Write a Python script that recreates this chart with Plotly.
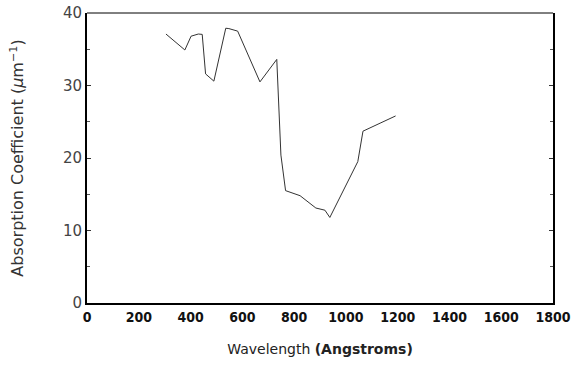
import plotly.graph_objects as go

# Absorption spectrum readings
wavelength = [305, 378, 402, 430, 445, 458, 490, 536, 548, 582, 668, 733, 749,
              767, 823, 884, 919, 938, 1046, 1066, 1132, 1192]
absorption = [37.1, 34.9, 36.8, 37.1, 37.05, 31.6, 30.6, 37.9, 37.85, 37.5, 30.5,
              33.6, 20.4, 15.5, 14.8, 13.1, 12.8, 11.8, 19.5, 23.7, 24.8, 25.8]

x_ticks = [0, 200, 400, 600, 800, 1000, 1200, 1400, 1600, 1800]
y_ticks = [0, 10, 20, 30, 40]

thin_font = "DejaVu Sans ExtraLight, DejaVu Sans, sans-serif"
bold_font = "DejaVu Sans Condensed, DejaVu Sans, sans-serif"

fig = go.Figure()
fig.add_trace(go.Scatter(
    x=wavelength, y=absorption, mode="lines",
    line=dict(color="#333333", width=1),
    showlegend=False,
))

fig.update_layout(
    width=572, height=368,
    margin=dict(l=87, r=19, t=13, b=65, autoexpand=False),
    paper_bgcolor="white", plot_bgcolor="white",
    xaxis=dict(
        range=[0, 1800], tickvals=x_ticks, ticktext=[str(v) for v in x_ticks],
        showgrid=False, zeroline=False, automargin=False,
        showline=True, linecolor="black", linewidth=2,
        ticks="", ticklen=0,
        tickfont=dict(family=bold_font, size=14, color="#111", weight="bold"),
        title=dict(
            text="Wavelength <b>(Angstroms)</b>",
            font=dict(family=thin_font, size=14, color="#222"),
            standoff=20,
        ),
    ),
    yaxis=dict(
        range=[0, 40], tickvals=y_ticks,
        showgrid=False, zeroline=False, automargin=False,
        showline=True, linecolor="black", linewidth=2, mirror="allticks",
        ticks="inside", ticklen=4, tickwidth=1, tickcolor="#333",
        minor=dict(dtick=5, ticks="inside", ticklen=3, tickcolor="#555", tickwidth=1),
        tickfont=dict(family=thin_font, size=15, color="#444"),
        title=dict(
            text="Absorption Coefficient (<i>μ</i>m<sup>−1</sup>)",
            font=dict(family=thin_font, size=16, color="#333"),
            standoff=35,
        ),
    ),
)

# Thin top border of the frame
fig.add_shape(type="line", xref="paper", yref="paper", x0=0, x1=1, y0=1, y1=1,
              line=dict(color="black", width=1))

fig.write_html("out.html")
